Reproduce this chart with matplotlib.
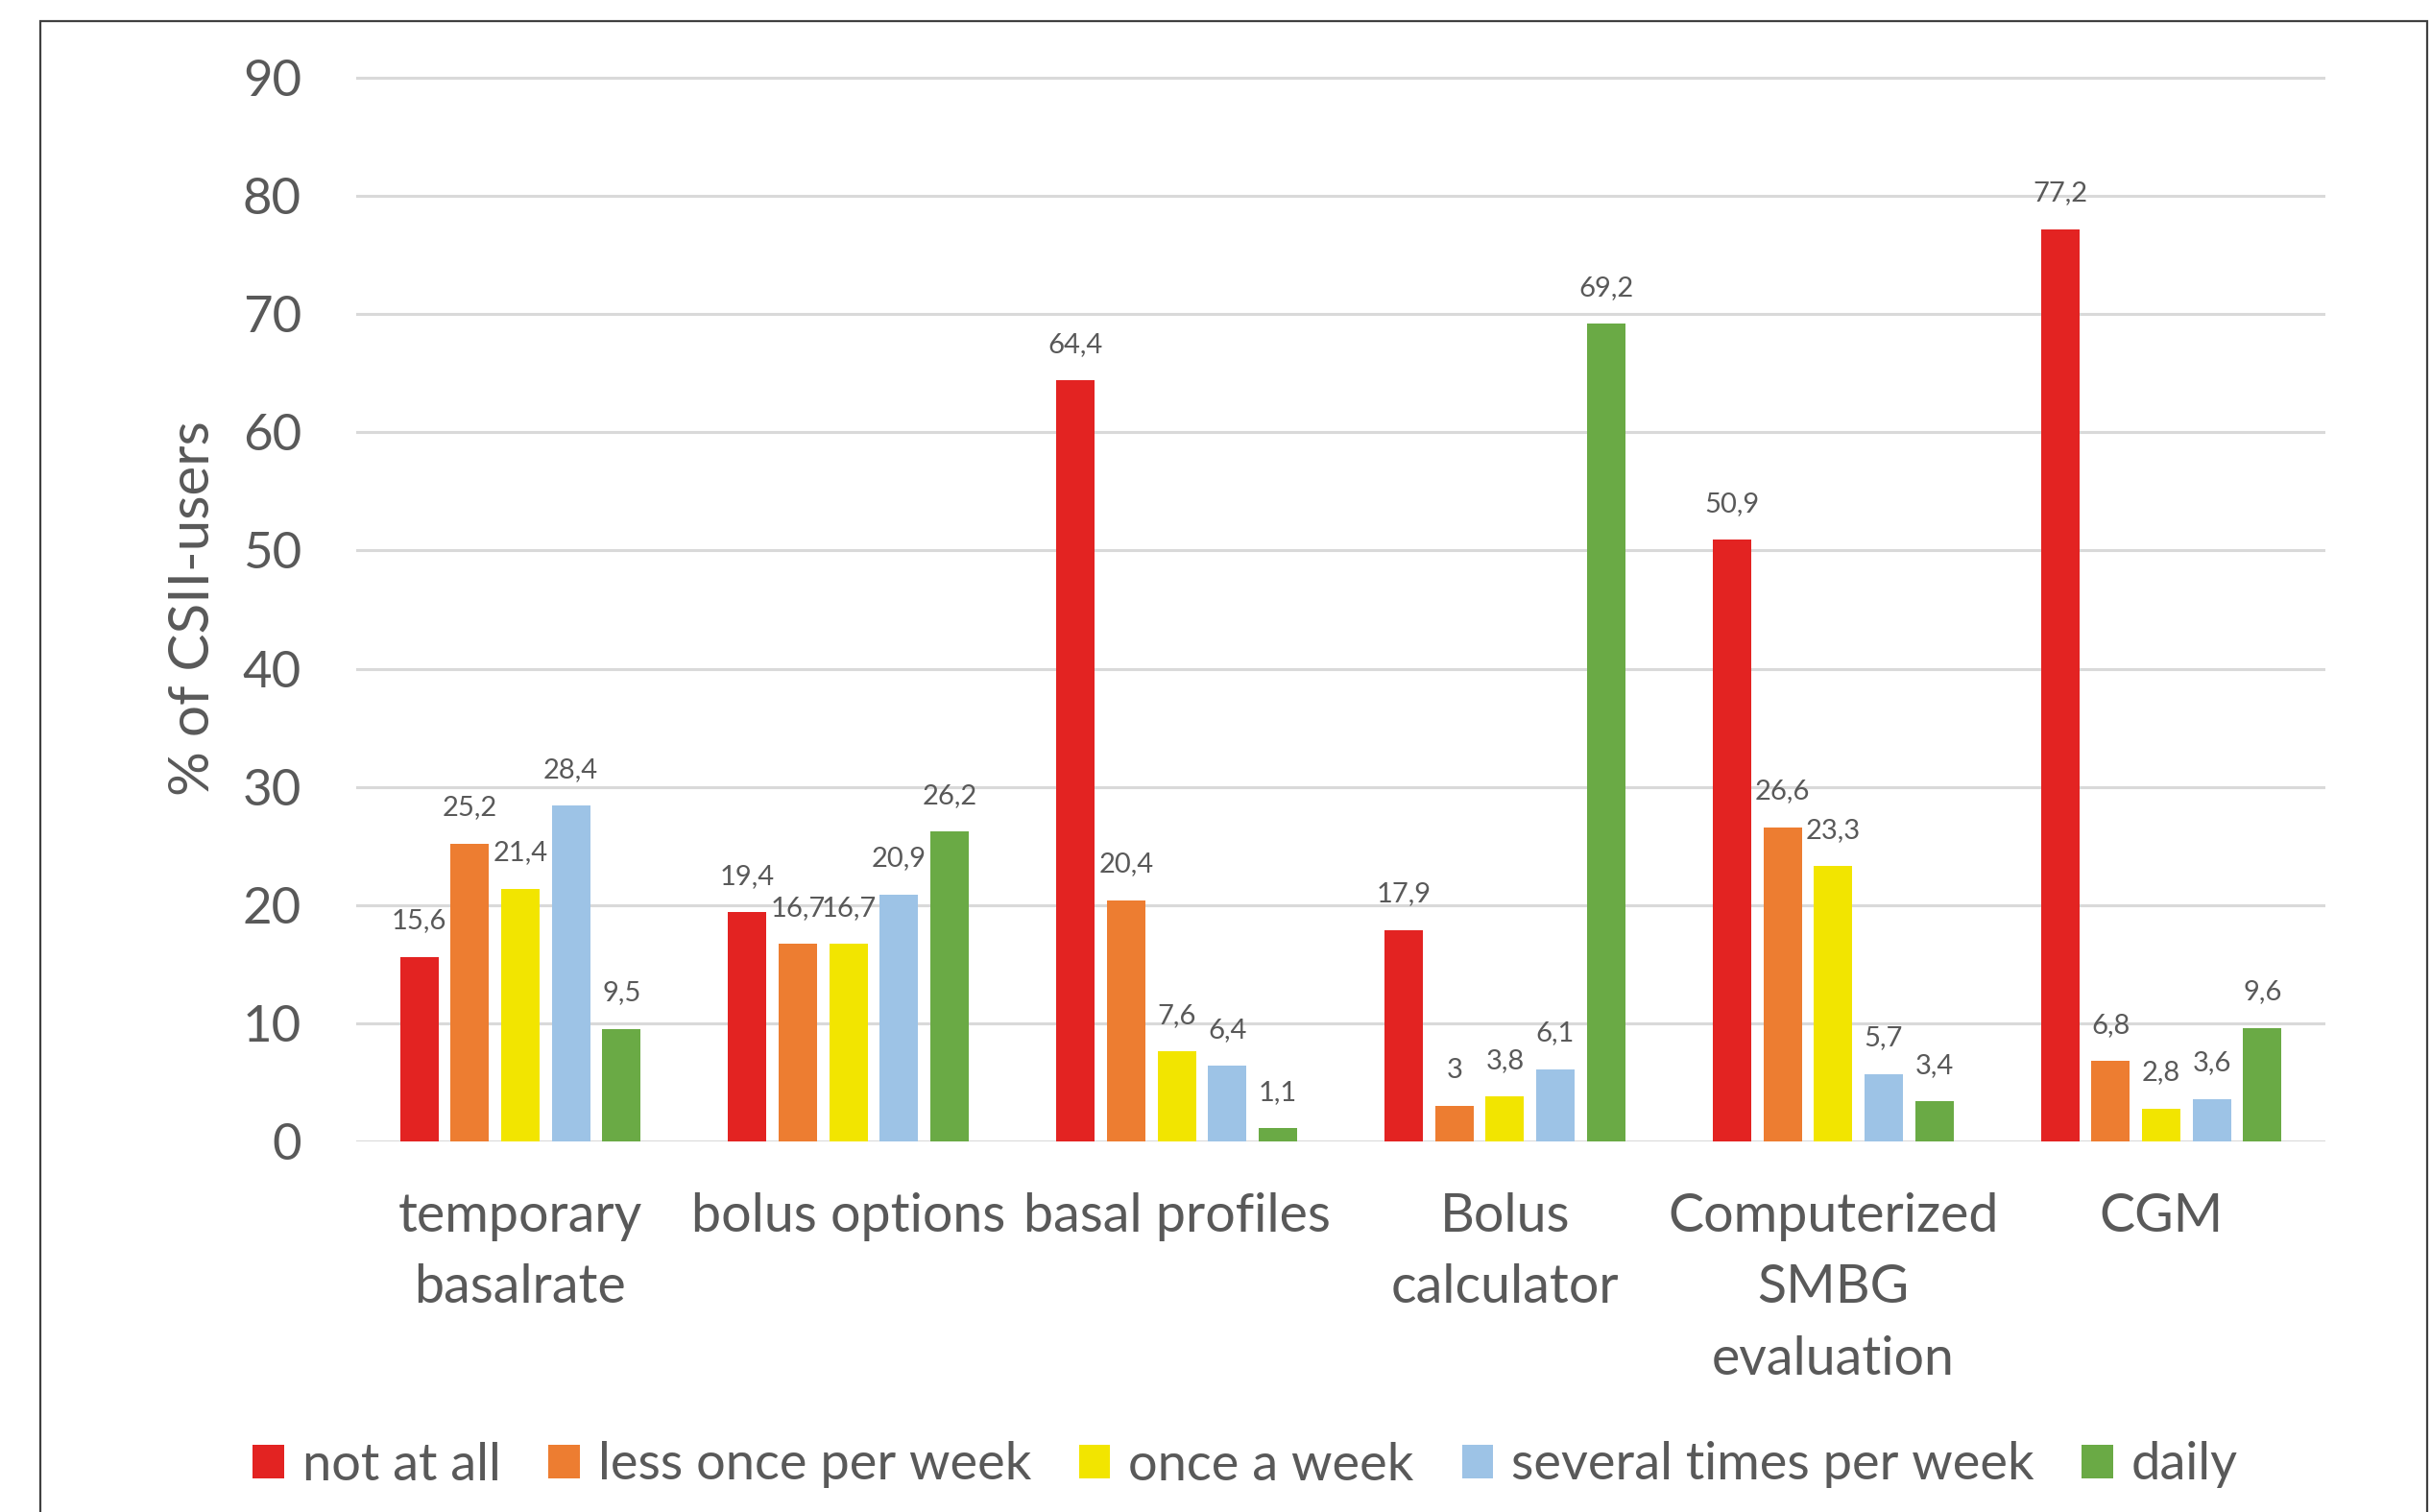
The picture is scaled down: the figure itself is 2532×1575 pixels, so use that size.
import matplotlib
matplotlib.use("Agg")
import matplotlib.pyplot as plt
import numpy as np
from matplotlib.patches import Rectangle

categories = ["temporary\nbasalrate", "bolus options", "basal profiles",
              "Bolus\ncalculator", "Computerized\nSMBG\nevaluation", "CGM"]
series_names = ["not at all", "less once per week", "once a week",
                "several times per week", "daily"]
not_at_all = [15.6, 19.4, 64.4, 17.9, 50.9, 77.2]
less_once_per_week = [25.2, 16.7, 20.4, 3.0, 26.6, 6.8]
once_a_week = [21.4, 16.7, 7.6, 3.8, 23.3, 2.8]
several_times_per_week = [28.4, 20.9, 6.4, 6.1, 5.7, 3.6]
daily = [9.5, 26.2, 1.1, 69.2, 3.4, 9.6]
yticks = [0, 10, 20, 30, 40, 50, 60, 70, 80, 90]
ylabel = "% of CSII-users"

series = [not_at_all, less_once_per_week, once_a_week, several_times_per_week, daily]
colors = ["#E32322", "#ED7D31", "#F2E500", "#9DC3E6", "#6AAA45"]
text_color = "#595959"

plt.rcParams['font.family'] = ['Lato', 'DejaVu Sans']

W, H = 2532, 1575
fig = plt.figure(figsize=(W / 100, H / 100), dpi=100)
fig.patch.set_facecolor("white")

# outer border (top, left, right)
fig.patches.append(Rectangle((42 / W, -0.05), (2528 - 42) / W, 1.05 - 22 / H,
                             transform=fig.transFigure, fill=False,
                             edgecolor="#404040", linewidth=1.6))

ymax = 90.3
left, right = 371, 2422
y0_px, y90_px = 1189, 81
ppu = (y0_px - y90_px) / 90.0
top_px = y0_px - ymax * ppu
ax = fig.add_axes([left / W, 1 - y0_px / H, (right - left) / W, (y0_px - top_px) / H])
ax.set_ylim(0, ymax)
ax.set_xlim(-0.5, len(categories) - 0.5)

x = np.arange(len(categories))
pitch = 0.154
width = 0.117
for i, (vals, c, name) in enumerate(zip(series, colors, series_names)):
    xs = x + (i - 2) * pitch
    ax.bar(xs, vals, width=width, color=c, label=name, zorder=3)
    for xi, v in zip(xs, vals):
        s = str(int(v)) if float(v).is_integer() else f"{v}".replace(".", ",")
        ax.annotate(s, (xi, v), xytext=(0, 27), textcoords="offset points",
                    ha="center", va="center", fontsize=21, color=text_color)

ax.set_yticks(yticks)
ax.set_yticklabels([str(t) for t in yticks])
ax.yaxis.grid(True, color="#D9D9D9", linewidth=2.2, zorder=0)
ax.set_axisbelow(True)
for sp in ax.spines.values():
    sp.set_visible(False)
ax.tick_params(axis="both", length=0, colors=text_color)
ax.tick_params(axis="y", pad=41, labelsize=38)
ax.set_xticks(x)
ax.set_xticklabels(categories, linespacing=1.57)
ax.tick_params(axis="x", pad=38, labelsize=40)
ax.set_ylabel(ylabel, fontsize=42, color=text_color, labelpad=18)

fig.legend(loc="center", bbox_to_anchor=(1297 / W, 1 - 1526 / H), ncol=5,
           frameon=False, fontsize=39, handlelength=0.6, handleheight=0.6,
           handletextpad=0.35, columnspacing=0.92, labelcolor=text_color)

fig.savefig("out.png", dpi=100, facecolor="white")
